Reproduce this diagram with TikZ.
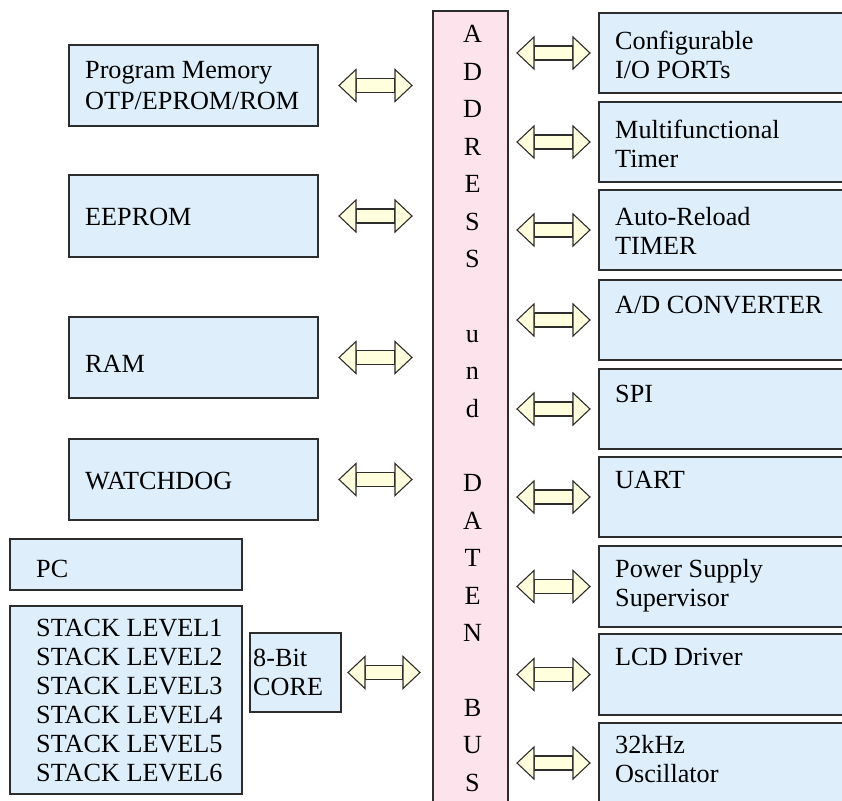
\documentclass[tikz,border=0pt]{standalone}
\usepackage{fontspec}
\setmainfont{Liberation Serif}
\usetikzlibrary{calc}

\definecolor{boxblue}{RGB}{222,238,251}
\definecolor{buspink}{RGB}{253,227,235}
\definecolor{arrowcream}{RGB}{255,254,221}
\definecolor{edgegray}{RGB}{45,45,45}

\tikzset{
  unit/.style={draw=edgegray, fill=boxblue, line width=1.3pt, inner sep=0pt, outer sep=0pt, anchor=north west},
  busbox/.style={draw=edgegray, fill=buspink, line width=1.2pt, inner sep=0pt, outer sep=0pt, anchor=north west},
  txt/.style={font=\fontsize{26.2}{29}\selectfont, inner sep=0pt, anchor=base west, align=left},
  busletter/.style={font=\fontsize{26.2}{29}\selectfont, inner sep=0pt, anchor=base},
  busarrow/.style={draw=edgegray, fill=arrowcream, line width=1.1pt, line join=miter}
}

% double headed block arrow between two tips
\newcommand{\bidir}[2]{%
  \filldraw[busarrow] ($(#1)+(17,-7)$) rectangle ($(#2)+(-17,7)$);
  \filldraw[busarrow] (#1) -- ++(17,-16) -- ++(0,32) -- cycle;
  \filldraw[busarrow] (#2) -- ++(-17,-16) -- ++(0,32) -- cycle;}

\begin{document}
\begin{tikzpicture}[x=1pt, y=-1pt]
  \useasboundingbox (0,0) rectangle (842,800);
  \clip (0,0) rectangle (842,800);

  % Bus
  \node[busbox, minimum width=75pt, minimum height=800pt] (bus) at (433,11) {};
  \foreach \l/\k in {A/0,D/1,D/2,R/3,E/4,S/5,S/6,u/8,n/9,d/10,D/12,A/13,T/14,E/15,N/16,B/18,U/19,S/20}
    \node[busletter] (b\k) at ($(bus.north)+(2,{32+37.4*\k})$) {\l};

  % Left units
  \node[unit, minimum width=249pt, minimum height=81pt] (pm) at (69,45) {};
  \node[unit, minimum width=249pt, minimum height=82pt] (ee) at (69,175) {};
  \node[unit, minimum width=249pt, minimum height=81pt] (ram) at (69,317) {};
  \node[unit, minimum width=249pt, minimum height=81pt] (wd) at (69,439) {};
  \node[unit, minimum width=232pt, minimum height=51pt] (pc) at (10,539) {};
  \node[unit, minimum width=232pt, minimum height=188pt] (stack) at (10,606) {};
  \node[unit, minimum width=91pt, minimum height=79pt] (core) at (250,633) {};

  % (base of a two-line text = its last line)
  \node[txt] (pmt) at ($(pm.north west)+(16,64)$) {Program Memory\\[2pt]OTP/EPROM/ROM};
  \node[txt] (eet) at ($(ee.north west)+(16,50)$) {EEPROM};
  \node[txt] (ramt) at ($(ram.north west)+(16,55)$) {RAM};
  \node[txt] (wdt) at ($(wd.north west)+(16,50)$) {WATCHDOG};
  \node[txt] (pct) at ($(pc.north west)+(26,38)$) {PC};
  \node[txt] (stackt) at ($(stack.north west)+(26,175)$)
    {STACK LEVEL1\\STACK LEVEL2\\STACK LEVEL3\\STACK LEVEL4\\STACK LEVEL5\\STACK LEVEL6};
  \node[txt] (coret) at ($(core.north west)+(3,62)$) {8-Bit\\CORE};

  % Right units
  \node[unit, minimum width=260pt, minimum height=80pt] (io) at (599,13) {};
  \node[unit, minimum width=260pt, minimum height=80pt] (mft) at (599,102) {};
  \node[unit, minimum width=260pt, minimum height=80pt] (art) at (599,190) {};
  \node[unit, minimum width=260pt, minimum height=80pt] (adc) at (599,280) {};
  \node[unit, minimum width=260pt, minimum height=80pt] (spi) at (599,369) {};
  \node[unit, minimum width=260pt, minimum height=80pt] (uart) at (599,457) {};
  \node[unit, minimum width=260pt, minimum height=81pt] (pss) at (599,546) {};
  \node[unit, minimum width=260pt, minimum height=81pt] (lcd) at (599,634) {};
  \node[unit, minimum width=260pt, minimum height=90pt] (osc) at (599,723) {};

  \node[txt] (iot) at ($(io.north west)+(16,65)$) {Configurable\\I/O PORTs};
  \node[txt] (mftt) at ($(mft.north west)+(16,65)$) {Multifunctional\\Timer};
  \node[txt] (artt) at ($(art.north west)+(16,64)$) {Auto-Reload\\TIMER};
  \node[txt] (adct) at ($(adc.north west)+(16,33)$) {A/D CONVERTER};
  \node[txt] (spit) at ($(spi.north west)+(16,33)$) {SPI};
  \node[txt] (uartt) at ($(uart.north west)+(16,31)$) {UART};
  \node[txt] (psst) at ($(pss.north west)+(16,60)$) {Power Supply\\Supervisor};
  \node[txt] (lcdt) at ($(lcd.north west)+(16,31)$) {LCD Driver};
  \node[txt] (osct) at ($(osc.north west)+(16,59)$) {32kHz\\Oscillator};

  % Arrows to the bus
  \foreach \u in {pm,ee,ram,wd} {
    \coordinate (\u L) at ($(\u.east)+(21,0)$);
    \coordinate (\u R) at ($(bus.west |- \u.east)+(-21,0)$);
    \bidir{\u L}{\u R}
  }
  \coordinate (coreL) at ($(core.east)+(7,0)$);
  \coordinate (coreR) at ($(bus.west |- core.east)+(-13,0)$);
  \bidir{coreL}{coreR}
  \foreach \u in {io,mft,art,adc,spi,uart,pss,lcd} {
    \coordinate (\u L) at ($(bus.east |- \u.west)+(9,0)$);
    \coordinate (\u R) at ($(\u.west)+(-9,0)$);
    \bidir{\u L}{\u R}
  }
  \coordinate (oscL) at ($(bus.east)+(9,0)$);
  \path (oscL |- osc.north) ++(0,40) coordinate (oscL);
  \coordinate (oscR) at ($(oscL)+(73,0)$);
  \bidir{oscL}{oscR}

\end{tikzpicture}
\end{document}
